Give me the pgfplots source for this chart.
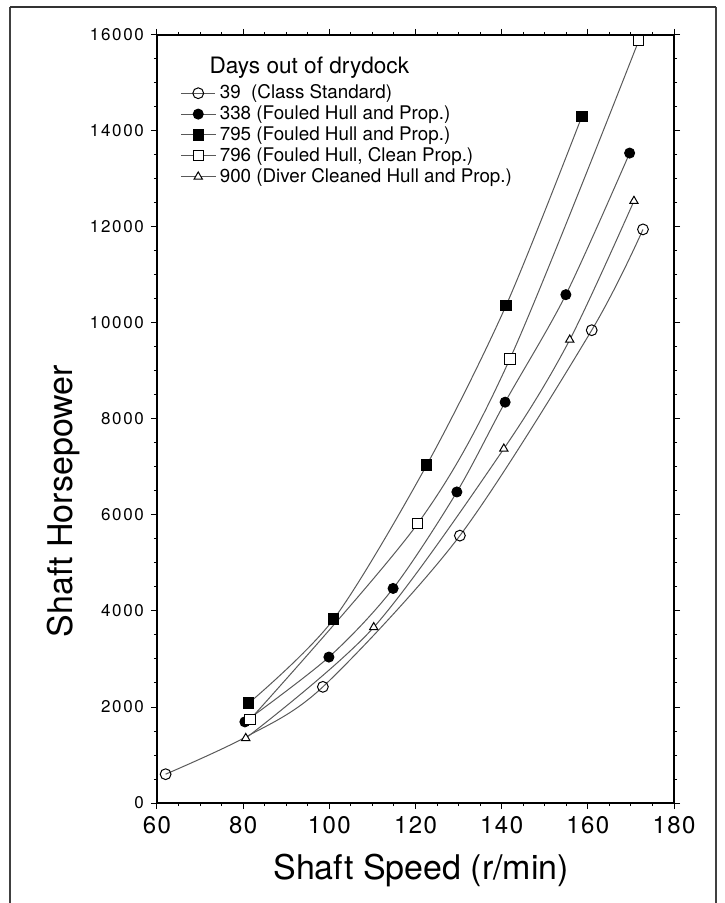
\documentclass[border=0pt]{standalone}
\usepackage{fontspec}
\setmainfont{TeX Gyre Heros}
\usepackage{pgfplots}
\pgfplotsset{compat=1.18}
\begin{document}
\begin{tikzpicture}
\path[use as bounding box] (-78.5pt,-50pt) rectangle (283.5pt,401.5pt);
\draw[line width=0.7pt, black!75] (-73.5pt,-50pt) -- (-73.5pt,398pt);
\draw[line width=0.7pt, black!75] (279.5pt,398pt) -- (279.5pt,-50pt);
\draw[line width=1.3pt, black!80] (-73.5pt,398pt) -- (279.5pt,398pt);
\begin{axis}[
  at={(0pt,0pt)}, anchor=south west,
  scale only axis, width=258.5pt, height=384pt,
  xmin=60, xmax=180, ymin=0, ymax=16000,
  clip=false,
  scaled x ticks=false, scaled y ticks=false,
  xtick={60,80,100,120,140,160,180},
  xticklabels={60,80,100,120,140,160,180},
  ytick={0,2000,4000,6000,8000,10000,12000,14000,16000},
  yticklabels={0,2000,4000,6000,8000,10000,12000,14000,16000},
  minor x tick num=3, minor y tick num=3,
  tick align=outside, major tick length=3pt, minor tick length=1.5pt,
  tick style={black, line width=0.5pt},
  x tick label style={font=\fontsize{12}{14}\selectfont\addfontfeatures{LetterSpace=6}},
  y tick label style={font=\fontsize{8.5}{10}\selectfont\addfontfeatures{LetterSpace=10}},
  xlabel={Shaft Speed (r/min)}, ylabel={Shaft Horsepower},
  label style={font=\fontsize{17}{20}\selectfont},
  xlabel style={at={(axis description cs:0.511,-0.088)}, anchor=center},
  ylabel style={at={(axis description cs:-0.18,0.393)}, anchor=center},
  axis line style={line width=0.6pt, black},
  legend cell align=left,
  legend style={at={(rel axis cs:0.045,0.941)}, anchor=north west, draw=none, fill=none,
    font=\fontsize{9.4}{11}\selectfont, row sep=-2pt, inner sep=0pt},
]
% legend image for 39 (single centred mark)
\addlegendimage{black!65, line width=0.5pt, mark=o,
  mark options={solid, draw=black, fill=white, mark size=2.7pt, line width=0.5pt}}
\addlegendentry{39\ \ (Class Standard)}
% 39 (Class Standard): curve, then marks (the point at 80 is hidden under the triangle)
\addplot[smooth, black!65, line width=0.5pt, forget plot]
  coordinates {(62,600) (80.5,1370) (98.5,2420) (130.3,5570) (160.9,9850) (172.8,11950)};
\addplot[only marks, mark=o, forget plot,
  mark options={solid, draw=black, fill=white, mark size=2.7pt, line width=0.5pt}]
  coordinates {(62,600) (98.5,2420) (130.3,5570) (160.9,9850) (172.8,11950)};
% 338
\addplot[smooth, black!65, line width=0.5pt, mark=*,
  mark options={solid, draw=black, fill=black, mark size=2.5pt}]
  coordinates {(80.4,1690) (99.9,3040) (114.8,4470) (129.6,6480) (140.8,8350) (154.9,10590) (169.7,13540)};
\addlegendentry{338 (Fouled Hull and Prop.)}
% 795
\addplot[smooth, black!65, line width=0.5pt, mark=square*,
  mark options={solid, draw=black, fill=black, mark size=2.6pt}]
  coordinates {(81.3,2080) (101,3830) (122.6,7040) (141,10360) (158.6,14300)};
\addlegendentry{795 (Fouled Hull and Prop.)}
% 796
\addplot[smooth, black!65, line width=0.5pt, mark=square*,
  mark options={solid, draw=black, fill=white, mark size=2.6pt, line width=0.5pt}]
  coordinates {(81.6,1740) (120.5,5820) (141.9,9250) (171.8,15880)};
\addlegendentry{796 (Fouled Hull, Clean Prop.)}
% 900
\addplot[smooth, black!65, line width=0.5pt, mark=triangle*,
  mark options={solid, draw=black, fill=white, mark size=2.4pt, line width=0.5pt}]
  coordinates {(80.6,1350) (110.3,3660) (140.5,7380) (155.8,9650) (170.7,12540)};
\addlegendentry{900 (Diver Cleaned Hull and Prop.)}
\node[anchor=base west, font=\fontsize{11.3}{13}\selectfont] at (rel axis cs:0.088,0.9505) {Days out of drydock};
\end{axis}
\end{tikzpicture}
\end{document}
